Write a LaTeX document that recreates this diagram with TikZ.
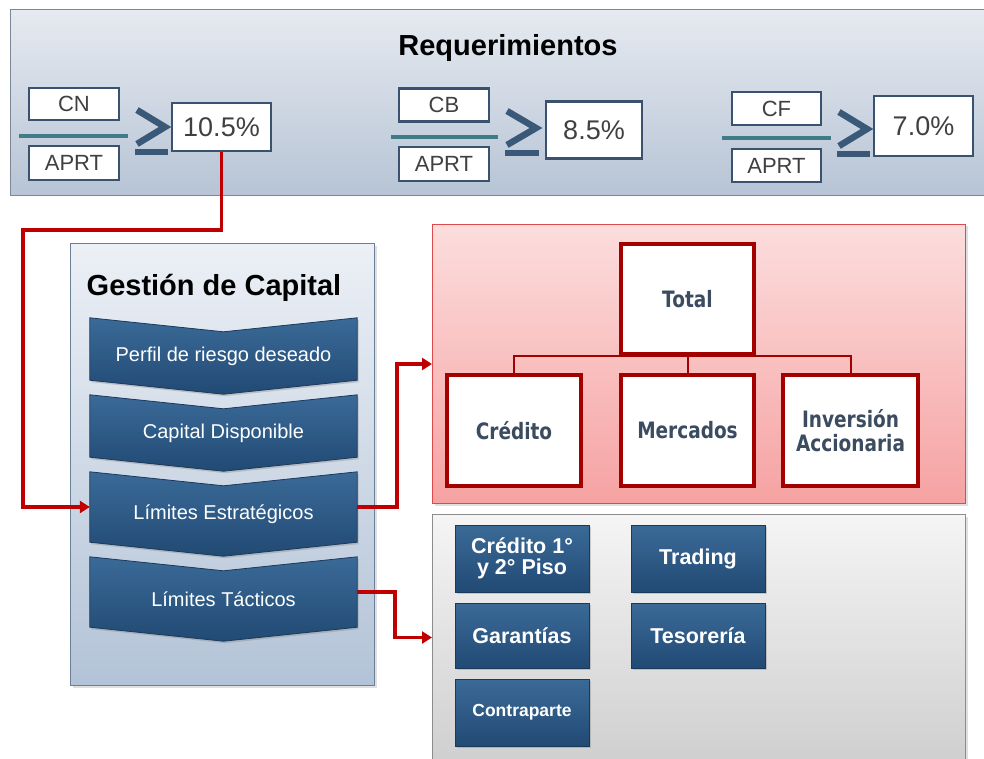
\documentclass[tikz,border=0pt]{standalone}
\usepackage{fontspec}
\setmainfont{Liberation Sans}
\newfontfamily\dejavu{DejaVu Sans}
\usetikzlibrary{shadows,arrows.meta,calc}

\definecolor{redc}{HTML}{C00000}
\definecolor{boxred}{HTML}{A30000}
\definecolor{slatec}{HTML}{3A5270}
\definecolor{tealc}{HTML}{3E7C86}
\definecolor{gec}{HTML}{3A5878}
\definecolor{txtgray}{HTML}{404040}
\definecolor{wtxt}{HTML}{3B4B60}
\definecolor{bantop}{HTML}{E6EAF1}
\definecolor{banbot}{HTML}{B7C4D5}
\definecolor{banbrd}{HTML}{7A8799}
\definecolor{gptop}{HTML}{ECF0F6}
\definecolor{gpbot}{HTML}{B3C3D7}
\definecolor{gpbrd}{HTML}{6B7F99}
\definecolor{chtop}{HTML}{3B6A98}
\definecolor{chbot}{HTML}{214A74}
\definecolor{chbrd}{HTML}{1A3A5C}
\definecolor{rptop}{HTML}{FCDDDD}
\definecolor{rpbot}{HTML}{F6A2A2}
\definecolor{rpbrd}{HTML}{DD4A4A}

\newcommand{\vs}[1]{\scalebox{1}[1.22]{#1}}

\tikzset{
  banner/.style={draw=banbrd, line width=1.2pt, top color=bantop, bottom color=banbot, anchor=north west, inner sep=0pt},
  title/.style={font=\fontsize{29}{32}\selectfont\bfseries, text=black, inner sep=0pt},
  fracbox/.style={draw=slatec, line width=2.5pt, fill=white, inner sep=0pt, font=\fontsize{22}{24}\selectfont, text=txtgray},
  pctbox/.style={draw=slatec, line width=2.5pt, fill=white, inner sep=0pt, font=\fontsize{27}{29}\selectfont, text=txtgray},
  fracline/.style={draw=tealc, line width=4pt},
  gesym/.style={draw=gec, line width=6.5pt, line join=miter},
  gpanel/.style={draw=gpbrd, line width=1.2pt, top color=gptop, bottom color=gpbot, anchor=north west, inner sep=0pt, drop shadow={opacity=0.25, shadow xshift=2pt, shadow yshift=-2pt}},
  gtitle/.style={font=\fontsize{29}{32}\selectfont\bfseries, text=black, inner sep=0pt},
  chevbox/.style={rectangle, minimum width=267, inner sep=0pt, draw=none},
  chevshape/.style={draw=chbrd, line width=0.8pt, top color=chtop, bottom color=chbot, drop shadow={opacity=0.35, shadow xshift=1.5pt, shadow yshift=-2pt}},
  chevtext/.style={font=\fontsize{20}{22}\selectfont, text=white, inner sep=0pt},
  redpanel/.style={draw=rpbrd, line width=1pt, top color=rptop, bottom color=rpbot, anchor=north west, inner sep=0pt, drop shadow={opacity=0.25, shadow xshift=2pt, shadow yshift=-2pt}},
  graypanel/.style={draw=black!45, line width=1pt, top color=black!4, bottom color=black!19, anchor=north west, inner sep=0pt, drop shadow={opacity=0.25, shadow xshift=2pt, shadow yshift=-2pt}},
  wbox/.style={draw=boxred, line width=4.5pt, fill=white, inner sep=0pt, align=center, font=\dejavu\bfseries\fontsize{18.5}{24}\selectfont, text=wtxt, drop shadow={opacity=0.3, shadow xshift=2pt, shadow yshift=-2pt}},
  bbox/.style={draw=chbrd, line width=0.8pt, top color=chtop, bottom color=chbot, inner sep=0pt, align=center, minimum width=134, text=white, font=\bfseries\fontsize{21.5}{23}\selectfont, drop shadow={opacity=0.35, shadow xshift=2pt, shadow yshift=-2pt}},
  redarrow/.style={draw=redc, line width=3.5pt, -{Triangle[length=10pt,width=12pt]}},
  treeline/.style={draw=boxred, line width=2pt}
}

\newcommand{\mychev}[4]{%
  \node[chevbox, minimum height=#3] (#1) at (223.5,#2+#3/2) {};
  \path[chevshape] (#1.north west) -- ([yshift=-14pt]#1.north) -- (#1.north east) -- (#1.south east) -- ([yshift=-14pt]#1.south) -- (#1.south west) -- cycle;
  \node[chevtext] at ([yshift=-7pt]#1.center) {#4};
}

\begin{document}
\begin{tikzpicture}[x=1pt,y=-1pt]
\useasboundingbox (0,0) rectangle (984,759);
\fill[white] (0,0) rectangle (984,759);

% ---------------- Requerimientos banner
\node[banner, minimum width=982, minimum height=186] (ban) at (10,9) {};
\node[title] (tit) at (508,48) {Requerimientos};

% group 1
\node[fracbox, minimum width=90, minimum height=32] (cn) at (74,104) {CN};
\node[fracbox, minimum width=90, minimum height=34] (ap1) at (74,163) {APRT};
\draw[fracline] (19,136) -- (128,136);
\draw[gesym] (137,110) -- (165,127) -- (137,144);
\draw[gesym] (135,152) -- (168,152);
\node[pctbox, minimum width=99, minimum height=48] (p1) at (221.5,127) {10.5\%};

% group 2
\node[fracbox, minimum width=90, minimum height=33] (cb) at (444,105) {CB};
\node[fracbox, minimum width=90, minimum height=34] (ap2) at (444,164) {APRT};
\draw[fracline] (391,137) -- (498,137);
\draw[gesym] (507,111) -- (536,128) -- (507,145);
\draw[gesym] (505,153) -- (539,153);
\node[pctbox, minimum width=96, minimum height=57] (p2) at (594,130) {8.5\%};

% group 3
\node[fracbox, minimum width=89, minimum height=33] (cf) at (776.5,108.5) {CF};
\node[fracbox, minimum width=89, minimum height=33] (ap3) at (776.5,165.5) {APRT};
\draw[fracline] (722,138) -- (831,138);
\draw[gesym] (839,112) -- (867,129) -- (839,146);
\draw[gesym] (837,154) -- (870,154);
\node[pctbox, minimum width=99, minimum height=60] (p3) at (923.5,126) {7.0\%};

% ---------------- Gestion de Capital
\node[gpanel, minimum width=304, minimum height=442] (gp) at (70,243) {};
\node[gtitle] (gt) at (214,288) {Gestión de Capital};
\mychev{perf}{318}{62}{Perfil de riesgo deseado}
\mychev{capd}{395}{62}{Capital Disponible}
\mychev{lest}{472}{70}{Límites Estratégicos}
\mychev{ltac}{557}{70}{Límites Tácticos}

% ---------------- red panel
\node[redpanel, minimum width=533, minimum height=279] (rp) at (432,224) {};
\node[wbox, minimum width=133, minimum height=110] (tot) at (687.5,299) {\vs{Total}};
\node[wbox, minimum width=134, minimum height=111] (cred) at (514,430.5) {\vs{Crédito}};
\node[wbox, minimum width=133, minimum height=111] (merc) at (687.5,430.5) {\vs{Mercados}};
\node[wbox, minimum width=135, minimum height=111] (inv) at (850.5,430.5) {\vs{Inversión}\\\vs{Accionaria}};
\draw[treeline] (cred.north) |- (tot.south) -| (inv.north);
\draw[treeline] (tot.south) -- (merc.north);

% ---------------- gray panel
\node[graypanel, minimum width=533, minimum height=250] (gry) at (432,514) {};
\node[bbox, minimum height=67] (c12) at (522,558.5) {Crédito 1°\\[-2pt]y 2° Piso};
\node[bbox, minimum height=65] (gar) at (522,635.5) {Garantías};
\node[bbox, minimum height=67, font=\bfseries\fontsize{17.5}{19}\selectfont] (con) at (522,712.5) {Contraparte};
\node[bbox, minimum height=67] (trd) at (698,558.5) {Trading};
\node[bbox, minimum height=65] (tes) at (698,635.5) {Tesorería};

% ---------------- connectors
\coordinate (k1) at (23,230);
\draw[redarrow] (p1.south) |- (k1) |- (lest.west);
\draw[redarrow] (lest.east) -- ++(40,0) |- (rp.west);
\draw[redarrow] (ltac.east) -- ++(38,0) |- ([yshift=2pt]gry.west);
\end{tikzpicture}
\end{document}
